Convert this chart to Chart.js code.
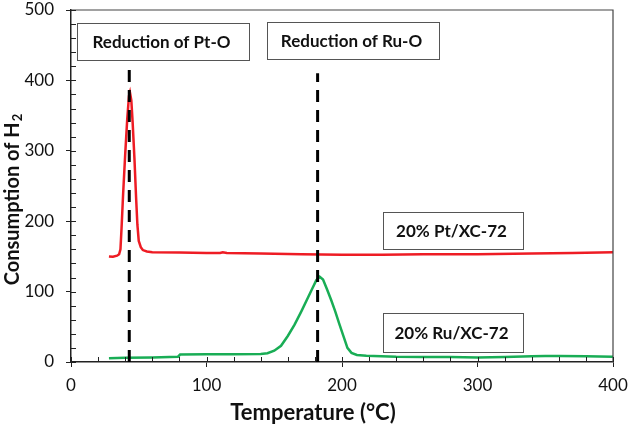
<!DOCTYPE html>
<html>
<head>
<meta charset="utf-8">
<script src="https://cdn.jsdelivr.net/npm/chart.js@4/dist/chart.umd.min.js"></script>
<style>
  html, body { margin: 0; padding: 0; background: #ffffff; }
  #wrap { width: 628px; height: 428px; position: relative; }
</style>
</head>
<body>
<div id="wrap"><canvas id="tprChart"></canvas></div>
<script>
// TPR profiles (temperature in degC, H2 consumption)
const ptTemp = [28, 31, 34, 35.5, 36.5, 37.3, 38.5, 40, 41.5, 42.8, 43.5, 44.5, 45.5, 46.8, 48, 49, 50, 51.5, 53, 56, 60, 80, 100, 110, 112, 115, 140, 170, 200, 230, 260, 300, 340, 370, 400];
const ptH2   = [150, 149.5, 151, 153, 160, 190, 240, 295, 345, 378, 383, 372, 340, 290, 235, 195, 172, 163, 159, 157, 156, 155.5, 155, 155, 156, 155, 154, 153, 152.5, 152.5, 153, 153, 154, 155, 156];

const ruTemp = [28, 40, 60, 79, 80.5, 100, 120, 140, 145, 150, 155, 160, 165, 170, 175, 178, 181, 183.5, 186, 189, 192, 195, 198, 201, 204, 207, 211, 218, 240, 260, 280, 300, 320, 340, 350, 360, 380, 400];
const ruH2   = [5.5, 6, 6.5, 7.5, 10.5, 11, 11, 11.5, 12.5, 16, 23, 37, 53, 72, 92, 104, 116, 121, 117, 103, 88, 72, 54, 37, 20, 13, 10, 9, 7.5, 7, 7, 6.5, 7, 8, 8.5, 8.5, 8, 7.5];

// reduction markers (vertical dashed lines)
const markerTemp = [43, 182];
const markerTop  = [422, 410];

const xTicks = [0, 100, 200, 300, 400];
const yTicks = [0, 100, 200, 300, 400, 500];

const FONT = "Lato, 'Open Sans', sans-serif";

// text boxes in data coordinates: [x1, x2, yTop, yBottom, label]
const boxes = [
    [4.4, 131.4, 481.5, 429, 'Reduction of Pt-O'],
    [144.6, 271.6, 483, 430.4, 'Reduction of Ru-O'],
    [230.3, 333.6, 213, 160.5, '20% Pt/XC-72'],
    [230.3, 333.6, 69.6, 14.2, '20% Ru/XC-72']
];

function toPoints(xs, ys) {
    return xs.map((x, i) => ({ x: x, y: ys[i] }));
}

// dashed markers sit on top of the curves
const markerSets = markerTemp.map((t, i) => ({
    data: [{ x: t, y: 0 }, { x: t, y: markerTop[i] }],
    showLine: true,
    borderColor: '#000000',
    borderWidth: 3,
    borderDash: [12, 8],
    pointRadius: 0,
    order: 0
}));

// frame, minor ticks, boxes and axis titles
const decorPlugin = {
    id: 'decor',
    afterDraw(chart) {
        const ctx = chart.ctx;
        const a = chart.chartArea;
        const xs = chart.scales.x, ys = chart.scales.y;
        ctx.save();

        // frame top + right
        ctx.strokeStyle = '#444444';
        ctx.lineWidth = 1.2;
        ctx.beginPath();
        ctx.moveTo(a.left, a.top);
        ctx.lineTo(a.right, a.top);
        ctx.lineTo(a.right, a.bottom);
        ctx.stroke();

        // inside ticks every 20
        ctx.strokeStyle = '#222222';
        ctx.lineWidth = 1;
        ctx.beginPath();
        for (let v = 0; v <= 400; v += 20) {
            const px = Math.round(xs.getPixelForValue(v)) + 0.5;
            ctx.moveTo(px, a.bottom);
            ctx.lineTo(px, a.bottom - 5);
        }
        for (let v = 0; v <= 500; v += 20) {
            const py = Math.round(ys.getPixelForValue(v)) + 0.5;
            ctx.moveTo(a.left, py);
            ctx.lineTo(a.left + 5, py);
        }
        ctx.stroke();

        // label boxes
        ctx.font = 'bold 17px ' + FONT;
        ctx.textAlign = 'center';
        ctx.textBaseline = 'middle';
        boxes.forEach(b => {
            const x1 = Math.round(xs.getPixelForValue(b[0])) + 0.5;
            const x2 = Math.round(xs.getPixelForValue(b[1])) + 0.5;
            const y1 = Math.round(ys.getPixelForValue(b[2])) + 0.5;
            const y2 = Math.round(ys.getPixelForValue(b[3])) + 0.5;
            ctx.fillStyle = '#ffffff';
            ctx.fillRect(x1, y1, x2 - x1, y2 - y1);
            ctx.strokeStyle = '#555555';
            ctx.lineWidth = 1;
            ctx.strokeRect(x1, y1, x2 - x1, y2 - y1);
            ctx.fillStyle = '#111111';
            ctx.fillText(b[4], (x1 + x2) / 2 - 2, (y1 + y2) / 2 + 1);
        });

        // x axis title
        ctx.font = 'bold 22px ' + FONT;
        ctx.fillStyle = '#111111';
        ctx.fillText('Temperature (\u00B0C)', 313, 413);

        // y axis title with subscript
        const main = 'Consumption of H';
        ctx.translate(13, 200);
        ctx.rotate(-Math.PI / 2);
        ctx.font = 'bold 20px ' + FONT;
        const w1 = ctx.measureText(main).width;
        ctx.font = 'bold 13px ' + FONT;
        const w2 = ctx.measureText('2').width;
        const start = -(w1 + w2) / 2;
        ctx.textAlign = 'left';
        ctx.font = 'bold 20px ' + FONT;
        ctx.fillText(main, start, 0);
        ctx.font = 'bold 13px ' + FONT;
        ctx.fillText('2', start + w1 + 1, 5);

        ctx.restore();
    }
};

new Chart(document.getElementById('tprChart'), {
    type: 'scatter',
    data: {
        datasets: [
            {
                label: '20% Pt/XC-72',
                data: toPoints(ptTemp, ptH2),
                showLine: true,
                borderColor: '#ee1c24',
                borderWidth: 2.5,
                pointRadius: 0,
                order: 1
            },
            {
                label: '20% Ru/XC-72',
                data: toPoints(ruTemp, ruH2),
                showLine: true,
                borderColor: '#19ad55',
                borderWidth: 2.5,
                pointRadius: 0,
                order: 2
            },
            ...markerSets
        ]
    },
    options: {
        responsive: true,
        maintainAspectRatio: false,
        animation: false,
        layout: { padding: { top: 10, right: 15, left: 0, bottom: 0 } },
        plugins: {
            legend: { display: false },
            tooltip: { enabled: false }
        },
        scales: {
            x: {
                type: 'linear',
                min: 0,
                max: 400,
                afterBuildTicks: s => { s.ticks = xTicks.map(v => ({ value: v })); },
                afterFit: s => {
                    s.height = 66;
                    s.paddingLeft = 0;
                    s.paddingRight = 0;
                },
                ticks: {
                    font: { family: FONT, size: 17 },
                    color: '#111111',
                    padding: 8
                },
                grid: { drawOnChartArea: false, tickLength: 5, color: '#222222' },
                border: { color: '#222222', width: 1.5 }
            },
            y: {
                type: 'linear',
                min: 0,
                max: 500,
                afterBuildTicks: s => { s.ticks = yTicks.map(v => ({ value: v })); },
                afterFit: s => {
                    s.width = 71;
                    s.paddingTop = 0;
                    s.paddingBottom = 0;
                },
                ticks: {
                    font: { family: FONT, size: 17 },
                    color: '#111111',
                    padding: 12
                },
                grid: { drawOnChartArea: false, tickLength: 5, color: '#222222' },
                border: { color: '#222222', width: 1.5 }
            }
        }
    },
    plugins: [decorPlugin]
});
</script>
</body>
</html>
